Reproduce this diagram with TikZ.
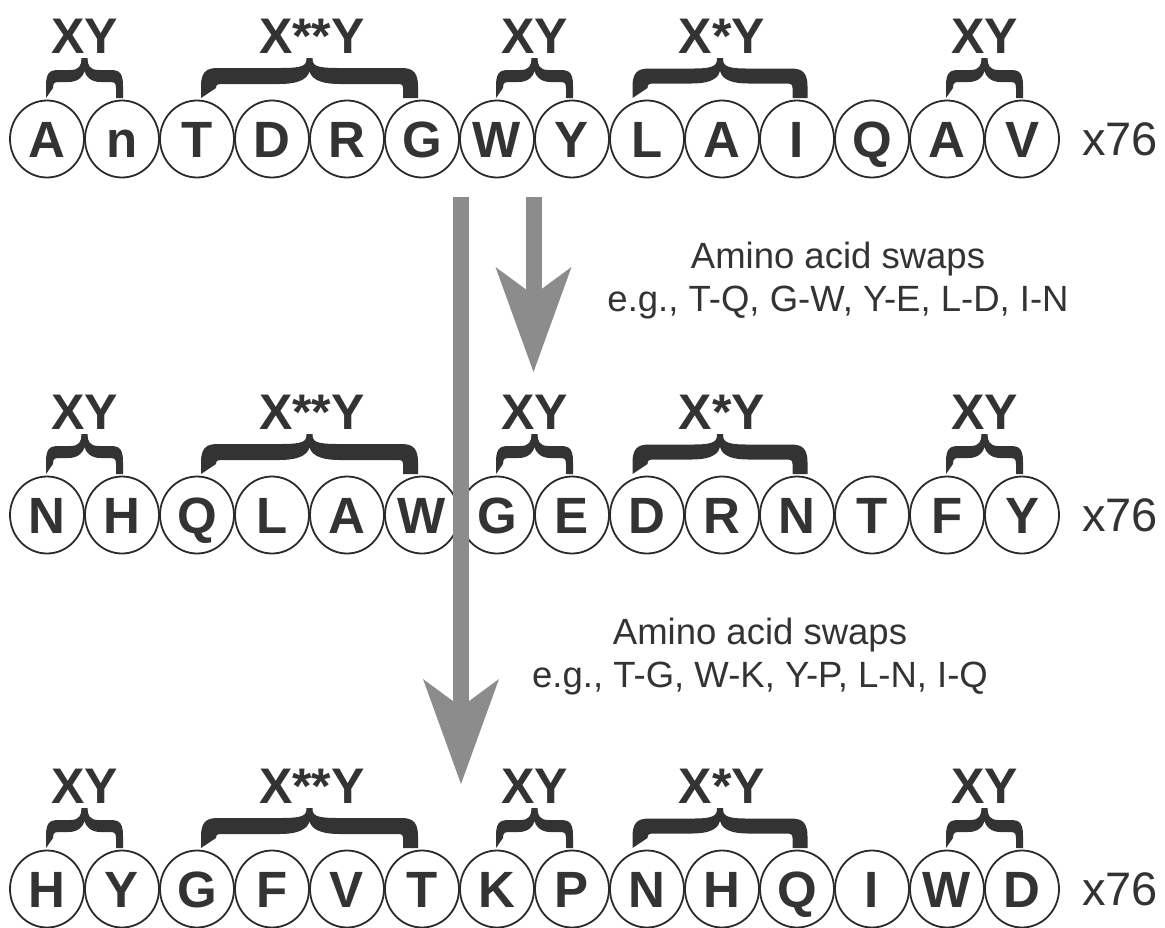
\documentclass[tikz,border=0pt]{standalone}
\usepackage{fontspec}
\setmainfont{Liberation Sans}
\usetikzlibrary{arrows.meta,shapes.geometric}
\definecolor{ink}{HTML}{333333}
\definecolor{rim}{HTML}{2A2A2A}
\definecolor{arrowgray}{HTML}{8C8C8C}
\tikzset{
  aa/.style={ellipse, draw=rim, line width=1.8pt, fill=white, minimum width=74pt, minimum height=77pt, inner sep=0pt,
    text=ink, font=\fontsize{51}{51}\selectfont\bfseries, text height=36.5pt, text depth=0pt},
  motif/.style={text=ink, font=\fontsize{50}{50}\selectfont\bfseries, text height=36pt, text depth=0pt, inner sep=0pt},
  copies/.style={text=ink, font=\fontsize{47}{47}\selectfont, text height=33.5pt, text depth=0pt, inner sep=0pt},
  swap/.style={text=ink, font=\fontsize{36.5}{36.5}\selectfont, inner sep=0pt, anchor=base},
  bigarrow/.style={draw=arrowgray, line width=16pt, -{Stealth[length=105pt, width=76pt, inset=28pt, line width=0pt]}},
  pics/curly/.style n args={4}{code={
    \fill[ink] ({-#1-#2/2},0) -- ({-#1-#2/2},-12)
      .. controls ({-#1-#2/2},{-22-#3/2}) and ({-#1+2},{-22-#3/2}) .. ({-#1+12},{-22-#3/2})
      -- ({-#4},{-22-#3/2})
      .. controls (-5,{-22-#3/2}) and (-3,-33) .. (-3,-40)
      -- (3,-40)
      .. controls (3,-33) and (5,{-22-#3/2}) .. ({#4},{-22-#3/2})
      -- ({#1-12},{-22-#3/2})
      .. controls ({#1-2},{-22-#3/2}) and ({#1+#2/2},{-22-#3/2}) .. ({#1+#2/2},-12)
      -- ({#1+#2/2},0) -- ({#1-#2/2},0) -- ({#1-#2/2},-10)
      .. controls ({#1-#2/2},{-22+#3/2}) and ({#1-#2/2-2},{-22+#3/2}) .. ({#1-#2/2-8},{-22+#3/2})
      -- ({#4+2},{-22+#3/2})
      .. controls (6,{-22+#3/2}) and (1,-22) .. (0,-27)
      .. controls (-1,-22) and (-6,{-22+#3/2}) .. ({-#4-2},{-22+#3/2})
      -- ({-#1+#2/2+8},{-22+#3/2})
      .. controls ({-#1+#2/2+2},{-22+#3/2}) and ({-#1+#2/2},{-22+#3/2}) .. ({-#1+#2/2},-10)
      -- cycle;
  }}
}
\begin{document}
\begin{tikzpicture}[x=1pt, y=-1pt]
\fill[white] (0,0) rectangle (1165,927);
\useasboundingbox (0,0) rectangle (1165,927);

% rows of residues
\foreach \L [count=\i from 0] in {A,n,T,D,R,G,W,Y,L,A,I,Q,A,V}
  \node[aa] (r1c\i) at ({47+75*\i},139) {\L};
\foreach \L [count=\i from 0] in {N,H,Q,L,A,W,G,E,D,R,N,T,F,Y}
  \node[aa] (r2c\i) at ({47+75*\i},515) {\L};
\foreach \L [count=\i from 0] in {H,Y,G,F,V,T,K,P,N,H,Q,I,W,D}
  \node[aa] (r3c\i) at ({47+75*\i},889) {\L};

% braces, motif labels and copy numbers
\foreach \yy/\row in {139/1,515/2,889/3} {
  \pic at (84.5,{\yy-41}) {curly={35}{7}{12}{14}};
  \pic at (309.5,{\yy-41}) {curly={101}{15}{16}{28}};
  \pic at (534.5,{\yy-41}) {curly={35}{7}{12}{14}};
  \pic at (720,{\yy-41}) {curly={80}{15}{15}{26}};
  \pic at (984.5,{\yy-41}) {curly={35}{7}{12}{14}};
  \node[motif] (m\row a) at (84.5,{\yy-104}) {XY};
  \node[motif] (m\row b) at (312,{\yy-104}) {X**Y};
  \node[motif] (m\row c) at (534.5,{\yy-104}) {XY};
  \node[motif] (m\row d) at (722,{\yy-104}) {X*Y};
  \node[motif] (m\row e) at (984.5,{\yy-104}) {XY};
  \node[copies] (x\row) at (1120,\yy) {x76};
}

% swap annotations
\node[swap] (s1a) at (838,268) {Amino acid swaps};
\node[swap] (s1b) at (838,311) {e.g., T-Q, G-W, Y-E, L-D, I-N};
\node[swap] (s2a) at (760,644) {Amino acid swaps};
\node[swap] (s2b) at (760,687) {e.g., T-G, W-K, Y-P, L-N, I-Q};

% arrows
\coordinate (a1s) at (533.5,197);
\coordinate (a1e) at (533.5,372);
\coordinate (a2s) at (461,197);
\coordinate (a2e) at (461,784);
\draw[bigarrow] (a1s) -- (a1e);
\draw[bigarrow] (a2s) -- (a2e);
\end{tikzpicture}
\end{document}
